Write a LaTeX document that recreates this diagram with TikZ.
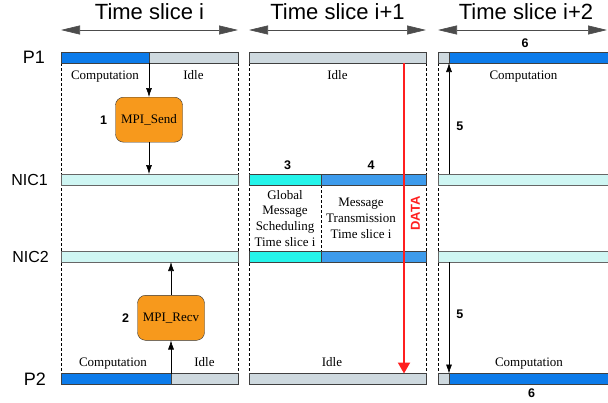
\documentclass[tikz,border=0pt]{standalone}
\usepackage{fontspec}
\setmainfont{Liberation Serif}
\setsansfont{Liberation Sans}
\usetikzlibrary{arrows.meta,positioning,backgrounds}

\definecolor{compblue}{HTML}{0C7BEA}
\definecolor{idlegray}{HTML}{CED9DF}
\definecolor{niccyan}{HTML}{CFF6F3}
\definecolor{schedcyan}{HTML}{25F4EA}
\definecolor{sendblue}{HTML}{3D9BEC}
\definecolor{mpiorange}{HTML}{F7991C}
\definecolor{datared}{HTML}{FF1F1F}

\begin{document}
\begin{tikzpicture}[x=1pt,y=-1pt,
	bar/.style={draw=black!75,line width=0.8pt,minimum height=11pt,inner sep=0pt,outer sep=0pt,anchor=west},
	comp/.style={bar,fill=compblue},
	idle/.style={bar,fill=idlegray},
	nic/.style={bar,fill=niccyan,draw=black!60},
	mpi/.style={draw=black!80,fill=mpiorange,rounded corners=8pt,minimum width=67pt,minimum height=45pt,font=\fontsize{13}{15}\selectfont},
	txt/.style={font=\fontsize{13}{15}\selectfont,inner sep=0pt,text height=9pt,text depth=3pt},
	block/.style={font=\fontsize{13}{15.7}\selectfont,inner sep=0pt,align=center},
	num/.style={font=\fontsize{12.5}{14}\selectfont\sffamily\bfseries,inner sep=0pt},
	proc/.style={font=\fontsize{18}{20}\selectfont\sffamily,inner sep=0pt},
	nicl/.style={font=\fontsize{16}{18}\selectfont\sffamily,inner sep=0pt},
	tlabel/.style={font=\fontsize{22}{24}\selectfont\sffamily,inner sep=0pt},
	slice/.style={{Triangle[length=19pt,width=9pt]}-{Triangle[length=19pt,width=9pt]},line width=0.6pt,draw=black!70,fill=black},
	msg/.style={-{Latex[length=9pt,width=6pt]},line width=0.6pt},
	guide/.style={dash pattern=on 3pt off 2pt,line width=0.5pt},
	data/.style={-{Triangle[length=11pt,width=12pt]},line width=2pt,datared}]

	\useasboundingbox (0,0) rectangle (608,402);
	\clip (0,0) rectangle (608,402);

	% P1
	\node[comp,minimum width=88pt] (p1a) at (61,57.5) {};
	\node[idle,minimum width=89pt,right=0pt of p1a] (p1b) {};
	\node[idle,minimum width=177pt] (p1c) at (249,57.5) {};
	\node[idle,minimum width=11pt] (p1d) at (438,57.5) {};
	\node[comp,minimum width=165pt,right=0pt of p1d] (p1e) {};

	% NIC1
	\node[nic,minimum width=177pt] (n1a) at (61,179.5) {};
	\node[bar,fill=schedcyan,minimum width=72pt] (n1b) at (249,179.5) {};
	\node[bar,fill=sendblue,minimum width=105pt,right=0pt of n1b] (n1c) {};
	\node[nic,minimum width=174pt] (n1d) at (438,179.5) {};

	% NIC2
	\node[nic,minimum width=177pt] (n2a) at (61,256.5) {};
	\node[bar,fill=schedcyan,minimum width=72pt] (n2b) at (249,256.5) {};
	\node[bar,fill=sendblue,minimum width=105pt,right=0pt of n2b] (n2c) {};
	\node[nic,minimum width=174pt] (n2d) at (438,256.5) {};

	% P2
	\node[comp,minimum width=110pt] (p2a) at (61,379) {};
	\node[idle,minimum width=67pt,right=0pt of p2a] (p2b) {};
	\node[idle,minimum width=177pt] (p2c) at (249,379) {};
	\node[idle,minimum width=11pt] (p2d) at (438,379) {};
	\node[comp,minimum width=165pt,right=0pt of p2d] (p2e) {};

	\node[proc,left=16pt of p1a] (lp1) {P1};
	\node[nicl,left=13pt of n1a] (ln1) {NIC1};
	\node[nicl,left=12pt of n2a] (ln2) {NIC2};
	\node[proc,left=15pt of p2a] (lp2) {P2};

	\begin{scope}[on background layer]
		\draw[guide] (p1a.south west) -- (p2a.north west);
		\draw[guide] (p1b.south east) -- (p2b.north east);
		\draw[guide] (p1c.south west) -- (p2c.north west);
		\draw[guide] (p1c.south east) -- (p2c.north east);
		\draw[guide] (p1d.south west) -- (p2d.north west);
		\draw[guide] (n1b.south east) -- (n2b.north east);
	\end{scope}

	\draw[slice] ([yshift=22pt]p1a.north west) -- ([yshift=22pt]p1b.north east)
		node[tlabel,midway,above=10pt] (t1) {Time slice i};
	\draw[slice] ([yshift=22pt]p1c.north west) -- ([yshift=22pt]p1c.north east)
		node[tlabel,midway,above=10pt] (t2) {Time slice i+1};
	\draw[slice] ([yshift=22pt]p1d.north west) -- +(169,0)
		node[tlabel,midway,above=10pt,xshift=3.5pt] (t3) {Time slice i+2};

	\node[txt,below=7pt of p1a] (c1) {Computation};
	\node[txt,below=7pt of p1b] (i1) {Idle};
	\node[txt,below=7pt of p1c] (i2) {Idle};
	\node[txt,below=7pt of p1e,xshift=-8pt] (c3) {Computation};
	\node[txt,above=4pt of p2a,xshift=-3pt] (c4) {Computation};
	\node[txt,above=4pt of p2b] (i4) {Idle};
	\node[txt,above=4pt of p2c,xshift=-5.5pt] (i5) {Idle};
	\node[txt,above=4pt of p2e,xshift=-2.5pt] (c6) {Computation};

	\node[mpi,below=34pt of p1a.south east] (send) {MPI\_Send};
	\node[mpi,above=33pt of p2a.north east] (recv) {MPI\_Recv};
	\node[num,left=8pt of send] (k1) {1};
	\node[num,left=8pt of recv] (k2) {2};

	\draw[msg] (p1a.south east) -- (send);
	\draw[msg] (send) -- (send |- n1a.north);
	\draw[msg] (p2a.north east) -- (recv);
	\draw[msg] (recv) -- (recv |- n2a.south);

	\node[num,above=4.5pt of n1b,xshift=2.5pt] (k3) {3};
	\node[num,above=4.5pt of n1c,xshift=-2.5pt] (k4) {4};
	\node[block,below=5pt of n1b] (gms) {Global\\Message\\Scheduling\\Time slice i};
	\node[block,below=13pt of n1c,xshift=-12.5pt] (mts) {Message\\Transmission\\Time slice i};

	\draw[data] ([xshift=-22pt]p1c.south east) -- ([xshift=-22pt]p2c.north east)
		node[pos=0.485,rotate=90,anchor=north,inner sep=6pt,text=datared,font=\fontsize{13}{15}\selectfont\sffamily\bfseries] (dl) {DATA};

	\draw[msg] (p1d.south east |- n1d.north) -- (p1d.south east)
		node[num,pos=0.43,right=7pt] (k5a) {5};
	\draw[msg] (p2d.north east |- n2d.south) -- (p2d.north east)
		node[num,pos=0.47,right=7pt] (k5b) {5};
	\node[num,above=3.7pt of p1e,xshift=-6.5pt] (k6a) {6};
	\node[num,below=4pt of p2e,xshift=0pt] (k6b) {6};

\end{tikzpicture}
\end{document}
